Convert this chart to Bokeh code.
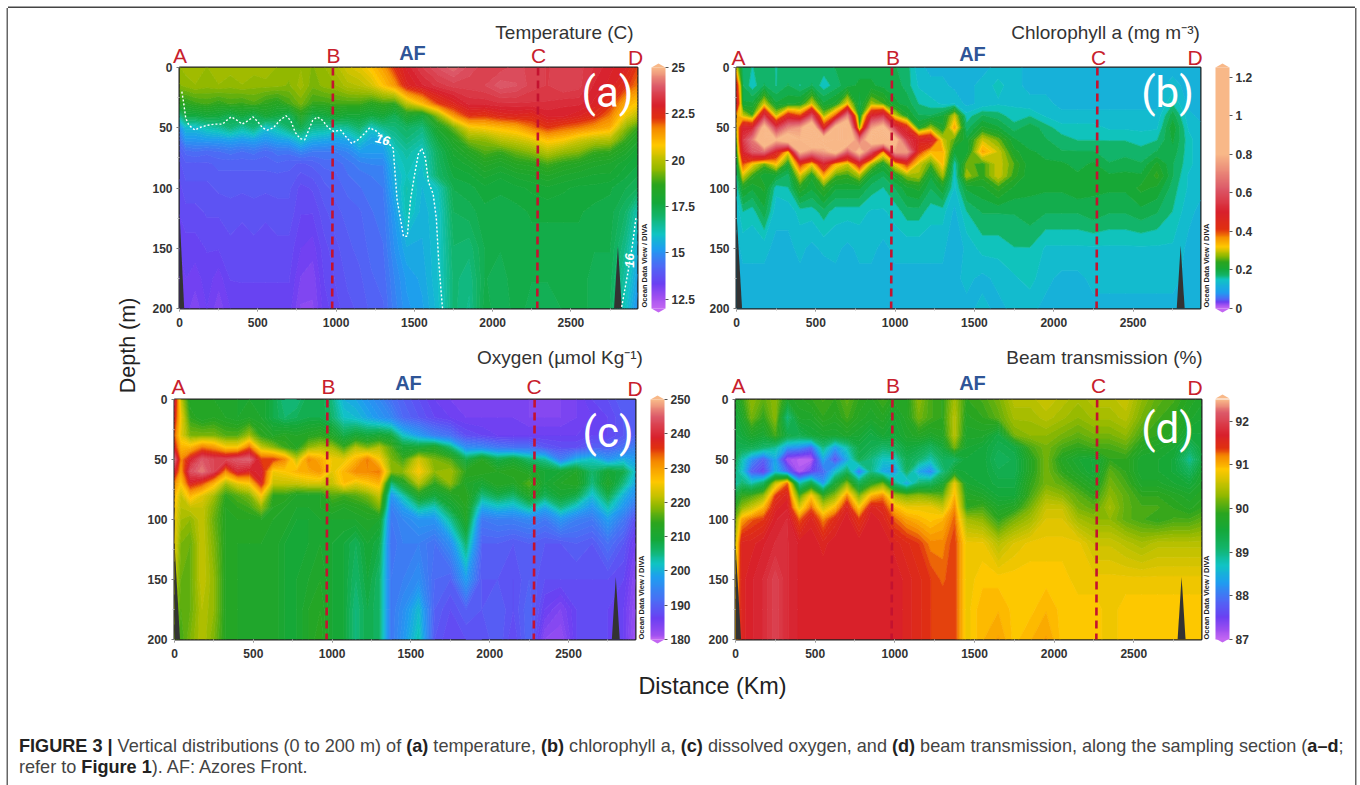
import math
import numpy as np
from bokeh.plotting import figure
from bokeh.layouts import column, row
from bokeh.models import (Range1d, Label, ColorBar, LinearColorMapper, FixedTicker, Div)
from bokeh.embed import file_html
from bokeh.resources import INLINE

stations = [0,40,100,175,250,325, 400,475,550,625,700,775, 850,925,1000,1075,1150,1225,
            1300,1375,1450,1550,1650,1750, 1850,1950,2050,2150,2250,2350, 2450,2550,2650,2750,2850,2925]
depths = [0,15,30,40,50,60,70,80,90,100,120,150,175,200]

temperature = [
 [19.6,19.7,19.8,19.6,19.8,19.7, 19.8,19.7,19.8,19.6,19.5,19.6, 19.4,19.6,19.9,20.3,20.5,20.9, 21.4,22.4,23.0,23.5,23.9,24.2, 23.8,23.6,23.6,23.8,23.6,23.5, 23.6,23.6,23.3,23.0,22.8,22.2],
 [19.4,19.5,19.6,19.5,19.6,19.5, 19.6,19.5,19.5,19.5,19.4,19.7, 19.3,19.5,19.6,19.9,20.0,20.3, 20.9,21.5,22.7,23.1,23.4,23.6, 23.6,23.7,24.0,23.9,23.6,23.5, 23.7,23.6,23.1,22.9,22.4,21.8],
 [18.6,18.6,18.8,18.9,18.7,18.9, 18.8,19.0,18.7,18.5,18.9,19.3, 18.8,18.8,18.9,18.9,18.9,18.6, 18.8,18.7,20.0,21.0,22.2,22.7, 23.2,23.2,23.3,23.3,23.3,23.3, 23.2,23.2,22.9,22.4,21.2,20.8],
 [16.6,17.6,17.6,17.8,17.7,17.3, 17.7,17.3,17.9,17.6,17.2,18.5, 17.4,17.6,18.0,17.8,17.8,17.6, 17.8,17.3,18.2,17.8,19.5,21.5, 22.4,22.3,22.6,22.7,22.6,23.0, 23.0,22.8,22.5,21.8,20.6,20.0],
 [15.0,15.8,15.8,16.2,16.4,16.9, 16.4,16.9,15.9,16.3,17.0,17.4, 16.6,16.5,16.3,16.5,17.0,16.0, 16.6,16.8,17.1,16.8,18.2,19.2, 20.6,20.8,21.0,21.2,21.8,22.3, 22.0,21.8,21.5,21.2,19.5,18.8],
 [14.4,15.1,15.1,15.2,15.2,15.3, 15.2,15.3,15.1,15.3,15.4,16.0, 15.5,15.4,15.3,15.4,16.0,15.4, 15.5,16.4,16.8,16.4,17.6,18.4, 19.4,19.5,20.0,20.2,20.5,21.0, 20.8,20.3,20.0,19.9,18.8,18.2],
 [14.0,14.3,14.4,14.3,14.4,14.5, 14.4,14.5,14.3,14.5,14.5,14.8, 14.6,14.6,14.6,14.8,15.2,15.2, 15.2,16.0,16.4,16.0,17.2,18.0, 18.5,19.0,18.8,19.2,19.5,20.0, 19.6,19.4,18.8,18.7,18.2,17.8],
 [13.8,14.0,14.0,14.0,14.1,14.1, 14.1,14.1,14.1,14.2,14.1,14.0, 14.1,14.3,14.3,14.5,14.7,14.8, 14.8,15.8,16.2,15.9,17.1,17.8, 18.0,18.4,18.2,18.5,18.6,18.9, 18.6,18.4,18.2,18.1,17.8,17.6],
 [13.7,13.9,13.9,13.9,14.0,14.0, 14.0,14.0,14.0,14.0,14.0,13.8, 13.9,14.1,14.2,14.4,14.5,14.6, 14.7,15.6,16.1,15.8,17.0,17.6, 17.7,18.0,17.8,18.0,18.1,18.3, 18.1,18.0,17.9,17.9,17.6,17.4],
 [13.6,13.8,13.8,13.8,13.9,13.9, 13.9,13.9,13.9,13.9,13.9,13.6, 13.7,14.0,14.1,14.3,14.4,14.5, 14.6,15.5,16.3,15.7,16.1,17.4, 17.5,17.7,17.6,17.7,17.8,17.9, 17.8,17.7,17.7,17.6,17.4,17.2],
 [13.5,13.6,13.6,13.7,13.7,13.8, 13.7,13.8,13.7,13.8,13.8,13.5, 13.5,13.8,14.0,14.1,14.2,14.4, 14.5,15.2,16.2,15.6,15.9,17.2, 17.3,17.5,17.5,17.5,17.6,17.6, 17.6,17.6,17.5,17.5,17.0,16.2],
 [13.3,13.4,13.4,13.5,13.5,13.6, 13.6,13.6,13.6,13.6,13.6,13.3, 13.2,13.6,13.8,14.0,14.1,14.3, 14.4,15.0,15.5,15.5,15.9,17.0, 16.9,17.4,17.4,17.5,17.5,17.5, 17.5,17.5,17.4,17.4,16.6,15.6],
 [13.1,13.3,13.2,13.4,13.2,13.5, 13.5,13.5,13.5,13.5,13.5,13.1, 13.0,13.5,13.7,13.9,14.0,14.2, 14.3,14.8,15.2,15.4,15.9,16.9, 16.7,17.4,17.3,17.5,17.4,17.4, 17.4,17.5,17.3,17.3,16.3,15.3],
 [13.0,13.2,13.0,13.3,13.0,13.3, 13.4,13.4,13.4,13.4,13.4,12.9, 12.9,13.4,13.6,13.8,13.9,14.1, 14.2,14.7,15.1,15.3,15.8,16.9, 16.6,17.5,17.2,17.5,17.3,17.3, 17.4,17.5,17.3,17.2,16.0,15.0],
]
chlorophyll = [
 [.30,.17,.16,.17,.16,.17, .17,.17,.17,.18,.18,.19, .19,.19,.18,.17,.13,.12, .12,.12,.12,.12,.13,.13, .12,.12,.12,.12,.12,.12, .12,.12,.12,.12,.12,.11],
 [.45,.18,.15,.18,.16,.18, .16,.18,.15,.17,.19,.20, .20,.19,.19,.17,.14,.13, .13,.12,.12,.13,.15,.13, .12,.12,.12,.12,.12,.12, .12,.12,.12,.13,.12,.11],
 [.50,.20,.20,.30,.20,.21, .22,.30,.20,.22,.32,.19, .28,.25,.20,.19,.16,.15, .14,.14,.12,.13,.14,.14, .13,.13,.12,.12,.12,.12, .12,.12,.12,.16,.12,.11],
 [.35,.30,.25,.55,.30,.45, .40,.60,.28,.40,.70,.20, .50,.55,.30,.22,.18,.18, .20,.30,.15,.18,.17,.15, .16,.14,.13,.13,.13,.13, .13,.13,.13,.19,.13,.12],
 [.30,.50,.50,.85,.55,.70, .75,.95,.45,.85,.95,.26, .75,.85,.55,.45,.22,.28, .22,.35,.17,.22,.20,.17, .19,.17,.15,.15,.15,.14, .14,.14,.14,.21,.14,.13],
 [.25,.55,.68,1.0,.80,.90, .80,1.0,.90,.85,.95,.65, .90,.95,.85,.55,.48,.50, .30,.25,.20,.30,.26,.20, .18,.18,.17,.16,.16,.16, .16,.15,.16,.20,.15,.13],
 [.22,.50,.62,.65,.48,.32, .80,.70,.75,.85,.62,.85, .60,.35,.75,.75,.42,.33, .34,.20,.20,.35,.30,.22, .20,.19,.18,.18,.18,.17, .17,.17,.18,.19,.15,.13],
 [.18,.40,.32,.26,.33,.22, .42,.32,.50,.34,.30,.45, .28,.22,.32,.42,.30,.25, .33,.15,.26,.24,.30,.25, .20,.20,.20,.19,.20,.18, .19,.18,.22,.18,.15,.13],
 [.16,.30,.24,.20,.20,.17, .30,.22,.34,.25,.24,.28, .20,.18,.22,.27,.28,.20, .28,.14,.28,.24,.30,.24, .20,.21,.20,.20,.20,.20, .20,.20,.24,.18,.14,.13],
 [.15,.22,.20,.22,.15,.16, .23,.20,.24,.20,.20,.20, .17,.16,.18,.21,.22,.18, .21,.14,.20,.21,.24,.21, .20,.20,.20,.21,.20,.20, .20,.22,.21,.17,.14,.13],
 [.13,.16,.15,.19,.13,.13, .15,.15,.17,.15,.15,.15, .14,.14,.15,.17,.17,.15, .15,.12,.16,.18,.18,.18, .19,.18,.18,.18,.19,.18, .18,.19,.18,.16,.13,.12],
 [.12,.13,.13,.13,.12,.12, .13,.12,.13,.13,.12,.13, .13,.12,.13,.13,.13,.13, .13,.11,.13,.15,.15,.16, .16,.14,.14,.14,.14,.14, .14,.14,.14,.14,.12,.12],
 [.12,.12,.12,.12,.12,.12, .12,.12,.11,.12,.12,.12, .12,.12,.12,.12,.12,.12, .12,.12,.13,.12,.13,.14, .15,.13,.12,.12,.13,.13, .13,.13,.13,.13,.12,.11],
 [.12,.12,.12,.12,.12,.12, .12,.12,.12,.11,.12,.12, .12,.12,.12,.11,.12,.12, .12,.12,.12,.13,.12,.13, .13,.12,.12,.12,.12,.12, .12,.12,.12,.12,.12,.11],
]
oxygen = [
 [241,222,212,213,212,212, 211,211,211,208,205,205, 208,208,205,200,199,197, 195,192,190,188,186,185, 185,185,185,185,184,183, 184,185,187,188,190,190],
 [238,225,214,212,213,212, 211,212,211,208,206,207, 208,208,206,202,201,199, 197,195,191,189,187,186, 185,185,185,185,184,184, 184,185,186,187,189,190],
 [234,224,218,218,218,216, 216,220,214,212,213,212, 213,214,212,208,210,209, 210,209,202,198,194,192, 188,187,186,186,186,186, 186,186,187,187,189,190],
 [238,228,228,233,231,226, 226,234,222,219,215,213, 219,221,220,215,221,218, 221,216,210,210,212,206, 196,195,193,192,192,189, 188,188,190,190,192,194],
 [247,232,239,245,243,243, 245,246,236,236,232,222, 232,229,225,224,228,233, 226,218,215,223,218,216, 208,213,208,210,206,204, 194,200,202,197,200,198],
 [240,230,244,247,243,232, 240,238,240,225,226,228, 229,231,224,228,232,232, 233,219,219,226,219,220, 214,214,213,214,212,210, 210,212,206,210,208,201],
 [232,226,238,235,228,220, 224,226,238,222,222,222, 223,223,222,227,224,226, 228,205,212,221,214,219, 212,210,213,212,216,210, 212,213,205,212,205,199],
 [228,222,228,224,220,214, 216,218,226,214,214,212, 212,212,216,215,216,218, 222,197,203,212,209,212, 214,205,208,206,212,207, 210,208,201,208,200,196],
 [226,221,222,222,218,213, 214,215,219,213,212,211, 211,212,213,212,213,214, 218,194,198,204,202,209, 213,199,201,200,204,199, 205,201,197,203,197,192],
 [225,220,219,222,217,213, 213,213,213,212,212,210, 210,211,211,211,211,212, 211,193,195,197,197,204, 212,193,194,194,195,193, 197,194,193,198,193,188],
 [224,218,217,222,218,213, 212,212,212,212,210,210, 210,211,210,209,207,210, 208,192,194,194,192,196, 206,190,190,189,190,189, 189,190,189,192,189,185],
 [222,217,217,222,219,213, 212,212,212,212,210,210, 211,212,210,209,206,209, 206,193,194,196,191,190, 198,189,189,188,190,188, 188,188,188,188,187,183],
 [220,216,217,221,219,213, 212,212,212,212,210,210, 212,213,210,209,205,208, 206,193,196,201,190,188, 190,189,190,188,191,186, 184,187,188,187,186,182],
 [218,215,218,221,218,213, 212,212,212,212,210,210, 212,214,210,209,205,208, 206,193,197,203,189,187, 188,188,190,187,191,183, 182,187,188,187,186,181],
]
beam = [
 [89.7,89.9,90.3,90.1,90.3,89.7, 89.8,89.9,90.0,89.9,90.1,89.9, 89.8,90.0,89.8,89.8,90.3,90.0, 89.9,90.4,89.9,90.0,90.2,90.5, 90.5,90.6,90.5,90.4,90.5,90.5, 90.6,90.3,90.1,90.0,89.8,89.7],
 [89.5,89.7,90.2,89.9,90.3,89.0, 89.7,89.7,89.9,89.8,90.0,89.8, 89.7,89.8,89.6,89.8,90.2,90.0, 89.9,90.5,89.8,89.9,90.1,90.4, 90.4,90.5,90.4,90.3,90.4,90.4, 90.5,90.2,90.0,89.9,89.7,89.6],
 [89.4,89.5,89.7,89.6,90.0,89.4, 89.3,89.5,89.6,89.6,89.7,89.6, 89.4,89.6,89.5,89.7,89.8,89.7, 89.8,90.5,89.7,89.7,89.4,90.2, 90.3,90.3,90.2,90.1,90.2,90.2, 90.3,90.0,89.9,89.8,89.5,89.5],
 [89.3,89.3,89.3,89.1,88.9,88.3, 88.2,87.9,89.0,88.3,88.8,89.4, 89.3,89.1,89.2,89.5,89.4,89.2, 89.5,90.2,89.6,89.5,89.3,89.4, 90.0,90.2,90.0,89.9,90.0,90.0, 90.1,89.8,89.7,89.6,89.2,89.5],
 [89.2,88.8,88.2,87.8,88.4,87.2, 87.05,87.05,88.4,87.7,88.4,89.3, 89.0,88.7,88.7,89.3,89.1,88.8, 89.2,89.2,89.5,89.5,89.2,89.3, 89.8,90.2,89.8,89.6,89.5,89.9, 89.9,89.6,89.6,89.5,88.9,89.4],
 [89.0,88.7,87.8,87.5,88.5,87.9, 87.1,87.5,87.9,88.6,89.2,88.0, 89.0,88.4,88.3,89.2,88.4,88.1, 89.0,89.6,89.5,89.5,89.3,89.3, 89.8,90.2,89.9,89.7,89.5,90.1, 89.9,89.6,89.6,89.5,89.2,89.6],
 [88.8,89.1,88.8,89.2,90.6,91.3, 88.8,89.4,88.3,89.6,90.3,89.3, 89.8,90.2,89.0,88.4,89.1,89.2, 89.6,90.8,89.6,89.5,89.4,89.4, 89.9,90.2,90.1,89.9,89.7,90.2, 90.0,89.7,89.7,89.6,89.5,89.7],
 [89.5,89.9,90.0,90.3,91.4,91.6, 90.0,90.9,89.9,90.3,91.2,90.2, 91.0,91.2,90.4,90.2,90.3,90.2, 90.1,91.0,89.8,89.7,89.5,89.5, 90.0,90.4,90.3,90.1,89.9,90.3, 90.1,89.9,89.9,89.8,89.7,89.8],
 [89.9,90.3,90.6,91.0,91.6,91.7, 90.7,91.3,90.6,91.0,91.6,90.9, 91.6,91.5,91.0,90.8,90.8,90.8, 90.6,91.2,89.9,90.0,89.7,89.8, 90.2,90.6,90.6,90.2,90.1,90.4, 90.1,90.0,90.0,89.9,89.8,89.9],
 [90.2,91.1,91.3,91.4,91.7,91.8, 91.3,91.6,91.2,91.5,91.7,91.4, 91.7,91.6,91.3,91.1,91.0,90.9, 91.0,91.3,90.4,90.3,89.9,90.2, 90.4,90.7,90.7,90.4,90.3,90.3, 90.1,90.0,89.9,90.0,90.0,90.1],
 [90.6,91.6,91.6,91.7,91.8,91.8, 91.7,91.7,91.6,91.7,91.7,91.7, 91.7,91.7,91.6,91.5,91.4,91.2, 91.2,91.4,90.8,90.8,90.5,90.7, 90.8,90.8,90.8,90.8,90.6,90.6, 90.5,90.4,90.5,90.5,90.5,90.5],
 [90.8,91.6,91.7,91.8,92.0,91.8, 91.7,91.7,91.7,91.7,91.7,91.7, 91.7,91.7,91.7,91.6,91.5,91.4, 91.3,91.4,90.8,90.9,90.9,90.9, 90.9,90.9,90.9,90.8,90.8,90.8, 90.8,90.8,90.8,90.8,90.8,90.8],
 [91.0,91.6,91.7,91.8,92.0,91.8, 91.7,91.7,91.7,91.7,91.7,91.7, 91.7,91.7,91.7,91.6,91.5,91.4, 91.4,91.4,90.8,91.0,91.0,90.9, 90.9,91.0,90.9,90.9,90.9,90.8, 90.9,90.9,90.9,90.9,90.9,90.9],
 [91.0,91.6,91.7,91.8,92.0,91.8, 91.7,91.7,91.7,91.7,91.7,91.7, 91.7,91.7,91.7,91.6,91.5,91.4, 91.4,91.4,90.8,91.0,91.1,90.9, 91.0,91.1,90.9,90.9,90.9,90.8, 90.9,90.9,90.9,90.9,90.9,90.9],
]

iso16_main_x = [15,25,40,60,80,100,125,175,225,275,300,330,370,400,440,470,500,530,560,600,640,680,710,740,770,800,825,850,880,915,950,985,1030,1060,1100,1140,1180,1215,1260,1365,1375,1390,1410,1430,1455,1475,1500,1525,1547,1570,1590,1620,1640,1655,1670,1680]
iso16_main_y = [20,28,42,48,50,52,50,48,47,47,44,41,44,47,44,41,45,50,52,50,44,40,44,54,59,60,52,44,41,44,50,53,52,57,63,60,55,50,53,67,85,110,125,140,140,110,90,72,67,75,95,105,125,160,185,200]
iso16_east_x = [2915,2893,2860,2822]
iso16_east_y = [125,147,173,200]

section_end = 2925
depth_ticks = [0,50,100,150,200]
dist_ticks = [0,500,1000,1500,2000,2500]
palette_colors = ["#c266f2","#a050f0","#6b3ff2","#4d6af5","#1f9df0","#10c4c4","#12b468","#14a83a","#2ba51e",
                  "#90b800","#b8c000","#ffc800","#f58a00","#e03010","#d8202c","#dc5868","#f8b888"]

def hex2rgb(h):
    return [int(h[i:i+2], 16) for i in (1, 3, 5)]

def make_colors(stops, vals):
    rgb = np.array([hex2rgb(c) for c in palette_colors], float)
    out = []
    for v in vals:
        c = [np.interp(v, stops, rgb[:, k]) for k in range(3)]
        out.append("#%02x%02x%02x" % tuple(int(round(a)) for a in c))
    return out

PANELS = [
 dict(key="a", z=temperature, title="Temperature (C)", low=12.0, high=25.0,
      stops=[12,12.6,13.3,14.3,15.2,16,17,17.7,18.7,19.5,20,20.8,21.7,22.3,23,24,25],
      ticks=[12.5,15,17.5,20,22.5,25], tl=["12.5","15","17.5","20","22.5","25"],
      cx=142, cy=8, L=179, R=637, T=67, B=308, W=558, H=332,
      bar=651, dash=(980,2290), A=(179.5,55), Bp=(333,55), AF=(412,52), Cp=(538,55), Dp=(635,57),
      tit=(564,32), tag=(607,92), odv=(643.5,265), ww=30),
 dict(key="b", z=chlorophyll, title="Chlorophyll a (mg m\u207b\u00b3)", low=0.0, high=1.25,
      stops=[0,.015,.03,.05,.08,.15,.17,.2,.24,.27,.29,.32,.37,.41,.5,.62,.8],
      ticks=[0,.2,.4,.6,.8,1,1.2], tl=["0","0.2","0.4","0.6","0.8","1","1.2"],
      cx=700, cy=8, L=736, R=1200, T=67, B=308, W=655, H=332,
      bar=1215, dash=(980,2275), A=(738,57), Bp=(892.5,57), AF=(972,53), Cp=(1098,57), Dp=(1194.6,57),
      tit=(1105,32), tag=(1167,92), odv=(1206,265), ww=35),
 dict(key="c", z=oxygen, title="Oxygen (\u00b5mol Kg\u207b\u00b9)", low=180.0, high=250.0,
      stops=[180,181,186,191,198,202,206,209,214,219,221,226,232,236,239,245,250],
      ticks=[180,190,200,210,220,230,240,250], tl=["180","190","200","210","220","230","240","250"],
      cx=142, cy=340, L=174, R=635, T=399, B=639, W=558, H=330,
      bar=650, dash=(970,2285), A=(178,386), Bp=(328,386), AF=(408,382), Cp=(533.6,386), Dp=(634.6,388),
      tit=(559.5,357), tag=(607.6,432), odv=(641,597), ww=35),
 dict(key="d", z=beam, title="Beam transmission (%)", low=87.0, high=92.5,
      stops=[87,87.2,87.5,87.9,88.3,88.7,89.1,89.5,89.9,90.3,90.5,90.9,91.2,91.4,91.7,92.2,92.5],
      ticks=[87,88,89,90,91,92], tl=["87","88","89","90","91","92"],
      cx=700, cy=340, L=735, R=1201, T=398, B=638, W=655, H=330,
      bar=1215, dash=(985,2270), A=(738,385), Bp=(892.5,385), AF=(972,382), Cp=(1098,385), Dp=(1194.6,387),
      tit=(1104,357), tag=(1167,428), odv=(1206,597), ww=35),
]

SANS = "Liberation Sans"

def panel(cfg):
    L, R, T, B = cfg["L"], cfg["R"], cfg["T"], cfg["B"]
    cx, cy = cfg["cx"], cfg["cy"]
    p = figure(frame_width=R-L, frame_height=B-T, x_range=Range1d(0, section_end), y_range=Range1d(200, 0),
               min_border_left=L-cx, min_border_right=cfg["W"]-(R-cx),
               min_border_top=T-cy, min_border_bottom=cfg["H"]-(B-cy),
               toolbar_location=None, output_backend="svg", background_fill_color="white")
    p.grid.visible = False
    p.outline_line_color = "#222222"
    p.outline_line_width = 2
    for ax, t in ((p.xaxis[0], dist_ticks), (p.yaxis[0], depth_ticks)):
        ax.ticker = FixedTicker(ticks=t, minor_ticks=[k*250 for k in range(12)] if t is dist_ticks else [25,75,125,175])
        ax.major_label_text_font = SANS
        ax.major_label_text_font_style = "bold"
        ax.major_label_text_font_size = "12px"
        ax.major_label_text_color = "#333333"
        ax.major_tick_line_color = "#777777"
        ax.minor_tick_line_color = "#bbbbbb"
        ax.major_tick_in = 0; ax.major_tick_out = 3
        ax.minor_tick_in = 0; ax.minor_tick_out = 2
        ax.axis_line_color = None
        ax.major_label_standoff = 6 if t is dist_ticks else 4

    z = np.array(cfg["z"], float)
    assert z.shape == (len(depths), len(stations)), (cfg["key"], z.shape)
    levels = np.linspace(cfg["low"], cfg["high"], 71)
    mids = (levels[:-1]+levels[1:])/2
    fills = make_colors(cfg["stops"], mids)
    lines = make_colors(cfg["stops"], levels)
    p.contour(stations, depths, np.clip(z, cfg["low"]+1e-3, cfg["high"]-1e-3), levels=levels,
              fill_color=fills, line_color=lines, line_width=1)

    # sea floor
    p.patch([0, 0, cfg["ww"]], [200, 120, 200], color="#333333", line_width=0)
    p.patch([2775, 2800, 2825], [200, 148, 200], color="#333333", line_width=0)

    if cfg["key"] == "a":
        p.line(iso16_main_x, iso16_main_y, line_color="white", line_dash="2 2", line_width=1.4)
        p.line(iso16_east_x, iso16_east_y, line_color="white", line_dash="2 2", line_width=1.4)

    for xd in cfg["dash"]:
        p.line([xd, xd-5], [0, 200], line_color="#c4122f", line_width=2.6, line_dash="8 5")

    vals = np.linspace(cfg["low"], cfg["high"], 256)
    mapper = LinearColorMapper(palette=make_colors(cfg["stops"], vals), low=cfg["low"], high=cfg["high"])
    cb = ColorBar(color_mapper=mapper, ticker=FixedTicker(ticks=cfg["ticks"]),
                  major_label_overrides=dict(zip(cfg["ticks"], cfg["tl"])),
                  width=14, height=B-T, location=(cfg["bar"]-R, 0), padding=0, margin=0,
                  major_tick_line_color="#555555", major_tick_in=0, major_tick_out=3,
                  minor_tick_line_color=None, bar_line_color=None, label_standoff=3,
                  major_label_text_font=SANS, major_label_text_font_style="bold",
                  major_label_text_font_size="12px", major_label_text_color="#333333")
    p.add_layout(cb, "right")
    return p

figs = {c["key"]: panel(c) for c in PANELS}

# Transparent sheet over the whole page for the texts that sit outside the plot frames.
sheet = figure(width=1347, height=777, x_range=Range1d(8, 1355), y_range=Range1d(785, 8),
               x_axis_location=None, y_axis_location=None, toolbar_location=None, output_backend="svg",
               min_border=0, outline_line_color=None, background_fill_alpha=0, border_fill_alpha=0,
               styles={"position": "absolute", "left": "0px", "top": "0px", "z-index": "5", "pointer-events": "none"})
sheet.grid.visible = False

def lab(pos, text, color, size, style="normal", font=SANS, angle=0.0):
    sheet.add_layout(Label(x=pos[0], y=pos[1], text=text, text_color=color, text_font=font,
                           text_font_size=size, text_font_style=style, angle=angle,
                           text_align="center", text_baseline="middle"))

for cfg in PANELS:
    for pos, t in ((cfg["A"], "A"), (cfg["Bp"], "B"), (cfg["Cp"], "C"), (cfg["Dp"], "D")):
        lab(pos, t, "#c8202c", "21px")
    lab(cfg["AF"], "AF", "#2f5597", "20px", "bold")
    lab(cfg["tit"], cfg["title"], "#333333", "19px")
    lab(cfg["tag"], "(%s)" % cfg["key"], "white", "42px", font="Roboto")
    lab(cfg["odv"], "Ocean Data View / DIVA", "#222222", "7.5px", "bold", angle=math.pi/2)
    bl, t0, b0 = cfg["bar"], cfg["T"], cfg["B"]
    sheet.patch([bl, bl+7, bl+14], [t0, t0-4, t0], color=make_colors(cfg["stops"], [cfg["high"]])[0], line_width=0)
    sheet.patch([bl, bl+7, bl+14], [b0, b0+4, b0], color=make_colors(cfg["stops"], [cfg["low"]])[0], line_width=0)

lab((382, 139), "16", "white", "13px", "bold italic", angle=-0.25)
lab((629, 260), "16", "white", "13px", "bold italic", angle=math.pi/2)
lab((127, 345), "Depth (m)", "#222222", "21.5px", angle=math.pi/2)
lab((712, 685), "Distance (Km)", "#222222", "23.4px")

gutter = figure(width=134, height=662, x_range=Range1d(0, 134), y_range=Range1d(662, 0),
                x_axis_location=None, y_axis_location=None, toolbar_location=None, output_backend="svg",
                min_border=0, outline_line_color=None)
gutter.grid.visible = False

b = lambda s: "<b style='color:#222'>%s</b>" % s
caption1 = (b("FIGURE 3 |") + " Vertical distributions (0 to 200 m) of " + b("(a)") + " temperature, " + b("(b)") +
            " chlorophyll a, " + b("(c)") + " dissolved oxygen, and " + b("(d)") +
            " beam transmission, along the sampling section (" + b("a&ndash;d") + ";")
caption2 = "refer to " + b("Figure 1") + "). AF: Azores Front."
bottom = Div(width=1347, height=115, margin=0, text=(
    "<div style='position:relative;width:1347px;height:115px;font-family:\"Liberation Sans\";color:#444;white-space:nowrap'>"
    "<div style='position:absolute;left:11px;top:66px;font-size:18.1px;line-height:21px'>" + caption1 + "<br>" + caption2 + "</div>"
    "</div>"))

grid = column(row(figs["a"], figs["b"], spacing=0), row(figs["c"], figs["d"], spacing=0), spacing=0)
page = column(row(gutter, grid, spacing=0), bottom, sheet, spacing=0, margin=(8, 0, 0, 8),
              styles={"box-shadow": "-1.5px 0 0 #666666, 0 -1.5px 0 #444444, 1.5px 0 0 #666666"})
open("out.html", "w").write(file_html(page, INLINE))
